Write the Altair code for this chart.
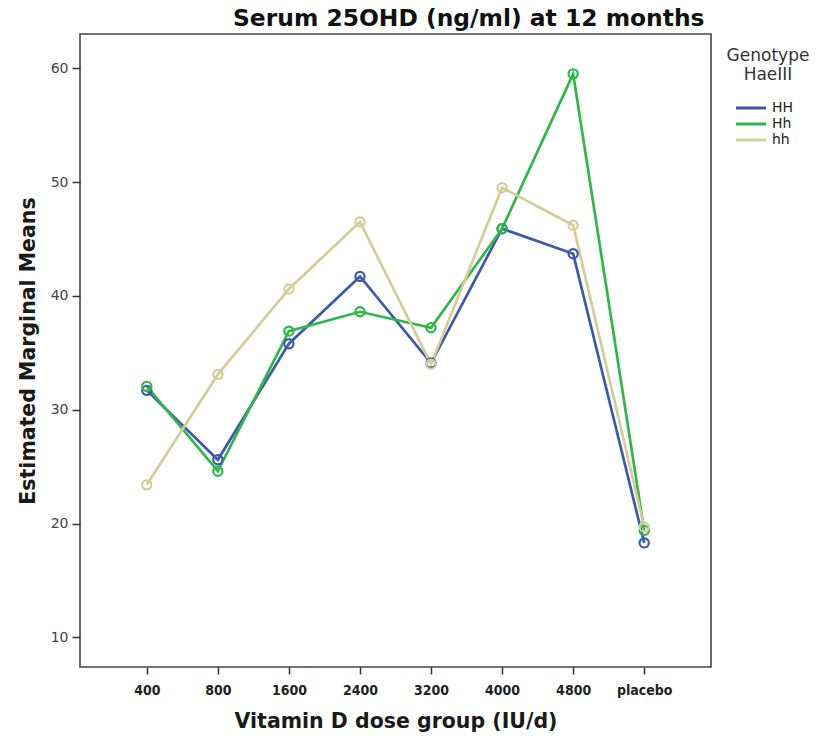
import altair as alt
import pandas as pd

# Estimated marginal means of serum 25OHD at 12 months, by dose group and genotype
dose_groups = ["400", "800", "1600", "2400", "3200", "4000", "4800", "placebo"]
genotypes = ["HH", "Hh", "hh"]
means_HH = [31.7, 25.6, 35.8, 41.7, 34.1, 45.9, 43.7, 18.3]
means_Hh = [32.05, 24.6, 36.9, 38.6, 37.2, 45.9, 59.5, 19.4]
means_hh = [23.4, 33.1, 40.6, 46.5, 34.0, 49.5, 46.2, 19.7]
y_ticks = [10, 20, 30, 40, 50, 60]
palette = ["#3E58AC", "#2EB848", "#D3CE97"]

rows = []
for g, series in zip(genotypes, [means_HH, means_Hh, means_hh]):
    for d, v in zip(dose_groups, series):
        rows.append({"dose": d, "genotype": g, "mean": v})
df = pd.DataFrame(rows)

x_enc = alt.X(
    "dose:N",
    sort=dose_groups,
    scale=alt.Scale(type="point", padding=0.94),
    axis=alt.Axis(
        title="Vitamin D dose group (IU/d)",
        labelAngle=0,
        labelFont="DejaVu Sans Condensed",
        labelFontWeight="bold",
        labelFontSize=14,
        labelColor="#222",
        labelPadding=9,
        tickSize=7,
        tickColor="#333",
        tickWidth=1.5,
        domain=False,
        titleFont="DejaVu Sans",
        titleFontWeight="bold",
        titleFontSize=20.5,
        titleColor="#1a1a1a",
        titlePadding=14,
    ),
)
y_enc = alt.Y(
    "mean:Q",
    scale=alt.Scale(domain=[7.4, 63], nice=False, zero=False),
    axis=alt.Axis(
        title="Estimated Marginal Means",
        values=y_ticks,
        grid=False,
        labelFont="DejaVu Sans",
        labelFontSize=14,
        labelColor="#444",
        labelPadding=4,
        tickSize=8,
        tickColor="#333",
        tickWidth=1.5,
        domain=False,
        titleFont="DejaVu Sans",
        titleFontWeight="bold",
        titleFontSize=20.5,
        titleColor="#1a1a1a",
        titlePadding=12,
    ),
)
color_scale = alt.Scale(domain=genotypes, range=palette)
color_enc = alt.Color(
    "genotype:N",
    sort=genotypes,
    scale=color_scale,
    legend=alt.Legend(
        title=["Genotype", "HaeIII"],
        titleFont="DejaVu Sans",
        titleFontWeight="normal",
        titleFontSize=17,
        titleColor="#333",
        titleAlign="center",
        titleAnchor="middle",
        titleLineHeight=19,
        titlePadding=15,
        labelFont="DejaVu Sans",
        labelFontSize=14,
        labelColor="#222",
        labelOffset=12,
        # a long horizontal stroke drawn past a compact symbol box keeps rows tight
        symbolType="M-2,0L2,0",
        symbolStrokeWidth=3,
        symbolSize=225,
        rowPadding=0,
        orient="none",
        legendX=647,
        legendY=14,
    ),
)

lines = alt.Chart(df).mark_line(strokeWidth=2.7).encode(x=x_enc, y=y_enc, color=color_enc)
points = alt.Chart(df).mark_point(shape="circle", filled=False, size=85, strokeWidth=2.2, opacity=1).encode(
    x=x_enc, y=y_enc, color=alt.Color("genotype:N", sort=genotypes, scale=color_scale, legend=None)
)

chart = (
    alt.layer(lines, points)
    .properties(
        width=631,
        height=633,
        background="white",
        title=alt.TitleParams(
            "Serum 25OHD (ng/ml) at 12 months",
            font="DejaVu Sans",
            fontSize=23.4,
            fontWeight="bold",
            color="#111",
            anchor="start",
            frame="group",
            dx=153,
            offset=3,
        ),
        autosize=alt.AutoSizeParams(type="none"),
        padding={"left": 80, "top": 34, "right": 106, "bottom": 73},
    )
    .configure_view(stroke="#444", strokeWidth=1.6)
)

chart.save("out.html", embed_options={"renderer": "svg", "actions": False})
